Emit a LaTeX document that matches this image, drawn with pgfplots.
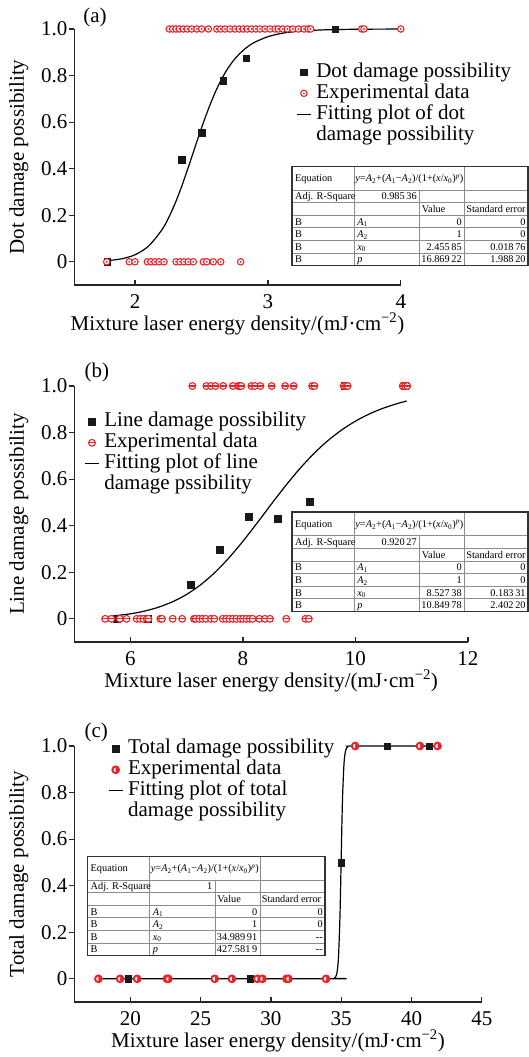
\documentclass[border=0pt]{standalone}
\usepackage{pgfplots}
\pgfplotsset{compat=1.18}
\usepackage{fontspec}
\setmainfont{Liberation Serif}
\definecolor{myred}{RGB}{232,36,40}
\definecolor{sqk}{RGB}{25,25,25}
\newcommand\lbl{\fontsize{21}{24}\selectfont}
\newcommand\tb{\fontsize{10.3}{12}\selectfont}

\pgfdeclareplotmark{odotw}{%
  \pgfpathcircle{\pgfpointorigin}{\pgfplotmarksize}%
  \pgfsetfillcolor{white}\pgfusepathqfillstroke
  \pgfpathcircle{\pgfpointorigin}{0.32\pgfplotmarksize}%
  \pgfsetfillcolor{myred}\pgfusepathqfill}
\pgfdeclareplotmark{ominusw}{%
  \pgfpathcircle{\pgfpointorigin}{\pgfplotmarksize}%
  \pgfsetfillcolor{white}\pgfusepathqfillstroke
  \pgfpathmoveto{\pgfqpoint{-\pgfplotmarksize}{0pt}}%
  \pgfpathlineto{\pgfqpoint{\pgfplotmarksize}{0pt}}%
  \pgfusepathqstroke}
\pgfdeclareplotmark{halfw}{%
  \pgfpathcircle{\pgfpointorigin}{\pgfplotmarksize}%
  \pgfsetfillcolor{myred}\pgfusepathqfill
  \pgfpathmoveto{\pgfqpoint{0pt}{0.55\pgfplotmarksize}}%
  \pgfpatharc{90}{270}{0.55\pgfplotmarksize}%
  \pgfpathclose
  \pgfsetfillcolor{white}\pgfusepathqfill
  \pgfpathcircle{\pgfpointorigin}{\pgfplotmarksize}%
  \pgfusepathqstroke}

\newcommand{\fittable}[8]{%
\begin{scope}[shift={(#1pt,-#2pt)}, font=\tb]
\pgfmathsetmacro\cw{172.4+#3}
\foreach \r in {23.6,36.2,48.8,61.4,74.0,86.6} {\draw[black!45, line width=0.8pt] (0,-\r pt) -- (\cw pt,-\r pt);}
\draw[black!45, line width=0.8pt] (62.1pt,0) -- (62.1pt,-99.2pt);
\draw[black!45, line width=0.8pt] (127.2pt,-23.6pt) -- (127.2pt,-99.2pt);
\draw[black!45, line width=0.8pt] (172.4pt,0) -- (172.4pt,-99.2pt);
\draw[black!80, line width=1.5pt] (0,0) rectangle (\cw pt,-99.2pt);
\node[anchor=base west, inner sep=0] at (2.8pt,-15.4pt) {Equation};
\node[anchor=base west, inner sep=0] at (63pt,-15.4pt) {\textit{y}=\textit{A}\textsubscript{2}+(\textit{A}\textsubscript{1}−\textit{A}\textsubscript{2})/(1+(\textit{x}/\textit{x}\textsubscript{0})\textsuperscript{\textit{p}})};
\node[anchor=base west, inner sep=0] at (2.8pt,-33.5pt) {Adj. R-Square};
\node[anchor=base east, inner sep=0] at (124.8pt,-33.5pt) {#4};
\node[anchor=base west, inner sep=0] at (129.5pt,-46.1pt) {Value};
\node[anchor=base west, inner sep=0] at (174pt,-46.1pt) {Standard error};
\node[anchor=base west, inner sep=0] at (2.8pt,-58.7pt) {B};
\node[anchor=base west, inner sep=0] at (2.8pt,-71.3pt) {B};
\node[anchor=base west, inner sep=0] at (2.8pt,-83.9pt) {B};
\node[anchor=base west, inner sep=0] at (2.8pt,-96.5pt) {B};
\node[anchor=base west, inner sep=0] at (65pt,-58.7pt) {\textit{A}\textsubscript{1}};
\node[anchor=base west, inner sep=0] at (65pt,-71.3pt) {\textit{A}\textsubscript{2}};
\node[anchor=base west, inner sep=0] at (65pt,-83.9pt) {\textit{x}\textsubscript{0}};
\node[anchor=base west, inner sep=0] at (65pt,-96.5pt) {\textit{p}};
\node[anchor=base east, inner sep=0] at (169.8pt,-58.7pt) {0};
\node[anchor=base east, inner sep=0] at (169.8pt,-71.3pt) {1};
\node[anchor=base east, inner sep=0] at (169.8pt,-83.9pt) {#5};
\node[anchor=base east, inner sep=0] at (169.8pt,-96.5pt) {#7};
\node[anchor=base east, inner sep=0] at (\cw pt-2.2pt,-58.7pt) {0};
\node[anchor=base east, inner sep=0] at (\cw pt-2.2pt,-71.3pt) {0};
\node[anchor=base east, inner sep=0] at (\cw pt-2.2pt,-83.9pt) {#6};
\node[anchor=base east, inner sep=0] at (\cw pt-2.2pt,-96.5pt) {#8};
\end{scope}}

\pgfplotsset{
  panel/.style={
    scale only axis, clip=false, axis lines=left,
    axis line style={-, line width=1.3pt, black!85},
    ymin=-0.1, ymax=1.0, height=256.1pt,
    ytick={0,0.2,0.4,0.6,0.8,1.0}, yticklabels={0,0.2,0.4,0.6,0.8,1.0},
    tick align=inside, major tick length=5pt,
    tick style={line width=1.2pt, black!85},
    ytick style={xshift=-5pt},
    minor tick num=0,
    every tick label/.append style={font=\lbl},
    /pgf/number format/assume math mode=true,
    yticklabel style={anchor=east, inner sep=0pt, xshift=-6.7pt},
    xticklabel style={anchor=north, inner sep=0pt, yshift=-9.4pt},
    every axis x label/.style={at={(axis description cs:0.5,0)}, anchor=base, yshift=-45pt, font=\lbl},
    every axis y label/.style={rotate=90, anchor=base, font=\lbl},
    xlabel={Mixture laser energy density/(mJ·cm\textsuperscript{−2})},
    legend style={draw=none, fill=none, inner sep=0pt, outer sep=0pt, row sep=0pt,
      column sep=2.7pt, font=\lbl, anchor=north west,
      cells={anchor=base west, inner sep=0pt, text height=15.5pt, text depth=8pt}},
  },
  mkimg/.style={legend image code/.code={\draw[##1] plot coordinates {(7.1pt,4.8pt)};}},
  sq/.style={only marks, mark=square*, mark size=3.3pt, mark options={fill=sqk, draw=sqk}, mkimg},
  fit/.style={black, line width=1.2pt, smooth, mark=none,
    legend image code/.code={\draw[##1] (0pt,4.8pt) -- (14.2pt,4.8pt);}},
}

\begin{document}
\begin{tikzpicture}
\path[use as bounding box] (0,0) rectangle (529pt,-1057pt);

% ---------------- (a)
\begin{axis}[panel, at={(74.2pt,-285.1pt)}, anchor=south west, width=326.6pt,
  xmin=1.5425, xmax=4, xtick={2,3,4},
  ylabel={Dot damage possibility}, ylabel style={at={(axis description cs:-0.1537,0.5)}},
  legend style={at={(0.6797,0.8805)}}]
\addplot[sq] coordinates {(1.79,0) (2.350,0.438) (2.502,0.555) (2.665,0.778) (2.837,0.874) (3.505,1)};
\addlegendentry{Dot damage possibility}
\addplot[only marks, mark=odotw, mark size=3.2pt, mark options={draw=myred, line width=1.1pt}, mkimg] coordinates {
 (2.258,1) (2.284,1) (2.309,1) (2.334,1) (2.364,1) (2.394,1) (2.427,1) (2.465,1) (2.502,1) (2.552,1)
 (2.615,1) (2.645,1) (2.677,1) (2.715,1) (2.753,1) (2.785,1) (2.815,1) (2.845,1) (2.878,1) (2.910,1)
 (2.940,1) (2.978,1) (3.016,1) (3.054,1) (3.078,1) (3.111,1) (3.146,1) (3.187,1) (3.229,1) (3.272,1)
 (3.304,1) (3.322,1) (3.706,1) (3.723,1) (4.0,1)
 (1.787,0) (1.957,0) (2.0,0) (2.093,0) (2.120,0) (2.150,0) (2.181,0) (2.218,0) (2.309,0) (2.339,0)
 (2.369,0) (2.401,0) (2.439,0) (2.514,0) (2.540,0) (2.589,0) (2.645,0) (2.795,0)};
\addlegendentry{Experimental data}
\addplot[fit] coordinates {(1.79,0.0048) (1.9,0.0130) (2.0,0.0303) (2.1,0.0665) (2.2,0.1352) (2.25,0.1859)
 (2.3,0.2485) (2.35,0.322) (2.4,0.4042) (2.45,0.490) (2.5,0.5745) (2.55,0.653) (2.6,0.7234) (2.65,0.783)
 (2.7,0.832) (2.75,0.871) (2.8,0.901) (2.85,0.925) (2.9,0.943) (3.0,0.967) (3.1,0.981) (3.2,0.9886)
 (3.4,0.9959) (3.6,0.9984) (3.8,0.9994) (4.0,0.9997)};
\addlegendentry{Fitting plot of dot}
\addlegendimage{empty legend}
\addlegendentry{damage possibility}
\end{axis}

% ---------------- (b)
\begin{axis}[panel, at={(74.2pt,-642.1pt)}, anchor=south west, width=393.8pt,
  xmin=5, xmax=12, xtick={6,8,10,12},
  ylabel={Line damage possibility}, ylabel style={at={(axis description cs:-0.1275,0.5)}},
  legend style={at={(0.0256,0.9098)}}]
\addplot[sq, mark size=3.5pt] coordinates {(5.75,0) (6.31,0) (7.07,0.145) (7.59,0.296) (8.10,0.438) (8.62,0.429) (9.19,0.501) (9.80,1) (10.88,1)};
\addlegendentry{Line damage possibility}
\addplot[only marks, mark=ominusw, mark size=3.4pt, mark options={draw=myred, line width=1.1pt}, mkimg] coordinates {
 (7.10,1) (7.35,1) (7.43,1) (7.51,1) (7.65,1) (7.82,1) (7.91,1) (7.94,1) (7.97,1) (8.15,1)
 (8.21,1) (8.31,1) (8.51,1) (8.75,1) (8.90,1) (9.23,1) (9.27,1) (9.79,1) (9.83,1) (9.86,1)
 (10.84,1) (10.88,1) (10.92,1)
 (5.55,0) (5.66,0) (5.81,0) (5.93,0) (6.11,0) (6.17,0) (6.23,0) (6.29,0) (6.32,0) (6.53,0)
 (6.56,0) (6.75,0) (6.92,0) (7.13,0) (7.16,0) (7.22,0) (7.28,0) (7.34,0) (7.43,0) (7.49,0)
 (7.64,0) (7.70,0) (7.76,0) (7.82,0) (7.88,0) (7.95,0) (8.00,0) (8.06,0) (8.12,0) (8.17,0)
 (8.29,0) (8.39,0) (8.48,0) (8.77,0) (9.11,0) (9.17,0)};
\addlegendentry{Experimental data}
\addplot[fit] coordinates {(5.7,0.0125) (6.0,0.0216) (6.25,0.0332) (6.5,0.0500) (6.75,0.0734) (7.0,0.1051)
 (7.25,0.1467) (7.5,0.1990) (7.75,0.2617) (8.0,0.3334) (8.25,0.4112) (8.5,0.4913) (8.75,0.5694)
 (9.0,0.6423) (9.25,0.7073) (9.5,0.7635) (9.75,0.8105) (10.0,0.8492) (10.25,0.8804) (10.5,0.9053)
 (10.75,0.9250) (10.91,0.9354)};
\addlegendentry{Fitting plot of line}
\addlegendimage{empty legend}
\addlegendentry{damage pssibility}
\end{axis}

% ---------------- (c)
\begin{axis}[panel, at={(74.2pt,-1002.1pt)}, anchor=south west, width=407.6pt,
  xmin=16, xmax=45, xtick={20,25,30,35,40,45},
  ylabel={Total damage possibility}, ylabel style={at={(axis description cs:-0.1232,0.5)}},
  legend style={at={(0.0829,1.0387)}}]
\addplot[sq] coordinates {(19.83,0) (28.52,0) (35.0,0.5) (38.27,1) (41.25,1)};
\addlegendentry{Total damage possibility}
\addplot[only marks, mark=halfw, mark size=3.9pt, mark options={draw=myred, line width=0.9pt}, mkimg] coordinates {
 (17.72,0) (19.27,0) (20.48,0) (22.60,0) (22.70,0) (26.0,0) (27.22,0) (29.03,0) (29.39,0)
 (31.10,0) (31.25,0) (33.92,0) (35.99,1) (40.6,1) (41.85,1)};
\addlegendentry{Experimental data}
\addplot[fit, smooth=false] coordinates {(17.7,0) (34.3,0.0002) (34.5,0.0024) (34.6,0.0082) (34.7,0.0277)
 (34.8,0.0888) (34.9,0.250) (34.95,0.380) (34.99,0.5) (35.05,0.6754) (35.1,0.793) (35.2,0.928)
 (35.3,0.9775) (35.4,0.9932) (35.5,0.998) (36.0,1.0) (41.9,1.0)};
\addlegendentry{Fitting plot of total}
\addlegendimage{empty legend}
\addlegendentry{damage possibility}
\end{axis}

\node[font=\lbl] at (95pt,-17pt) {(a)};
\node[font=\lbl] at (96.8pt,-372.8pt) {(b)};
\node[font=\lbl] at (96.2pt,-732.8pt) {(c)};

\fittable{292.2}{166.3}{63.4}{0.985\,36}{2.455\,85}{0.018\,76}{16.869\,22}{1.988\,20}
\fittable{292.2}{512.2}{63.4}{0.920\,27}{8.527\,38}{0.183\,31}{10.849\,78}{2.402\,20}
\fittable{87.7}{856.3}{65.1}{1}{34.989\,91}{-{}-}{427.581\,9}{-{}-}
\end{tikzpicture}
\end{document}
